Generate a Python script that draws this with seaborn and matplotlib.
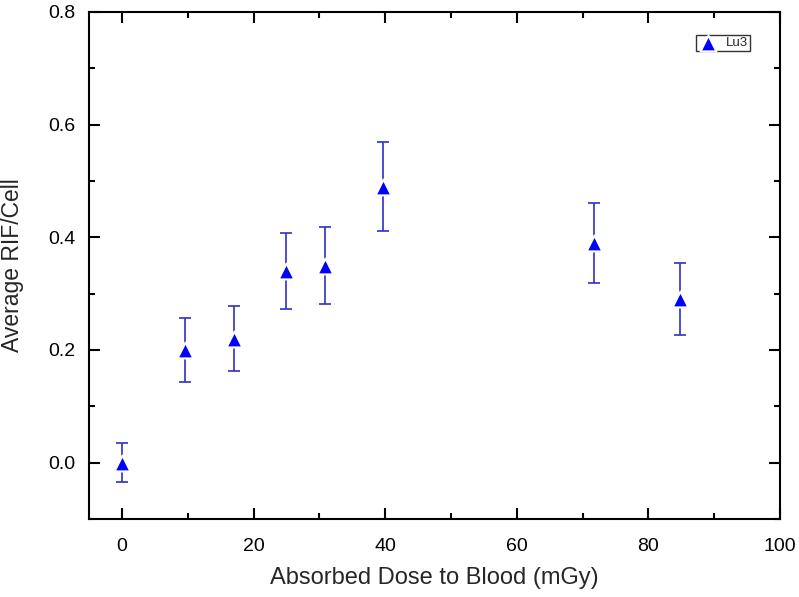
import numpy as np
import pandas as pd
import matplotlib
matplotlib.use("Agg")
import matplotlib.pyplot as plt
from matplotlib.ticker import MultipleLocator
import seaborn as sns

# data
dose = [0.0, 9.6, 17.0, 25.0, 30.8, 39.7, 71.8, 84.8]
rif_per_cell = [0.0, 0.20, 0.22, 0.34, 0.35, 0.49, 0.39, 0.29]
rif_err = [0.035, 0.056, 0.058, 0.068, 0.069, 0.079, 0.071, 0.064]
series_name = "Lu3"

df = pd.DataFrame({"dose": dose, "rif": rif_per_cell, "err": rif_err})

sns.set_style("ticks")
plt.rcParams['font.family'] = ['Liberation Sans', 'DejaVu Sans']

fig = plt.figure(figsize=(7.99, 5.97), dpi=100)
ax = fig.add_axes([89 / 799, 1 - 519 / 597, (780 - 89) / 799, (519 - 12) / 597])

# error bars first, markers drawn on top
ax.errorbar(df["dose"], df["rif"], yerr=df["err"], fmt="none",
            ecolor="#3030c0", elinewidth=1.2, capsize=4.5, capthick=1.2, zorder=2)
sns.scatterplot(data=df, x="dose", y="rif", marker="^", s=130, color="#0000ff",
                edgecolor="white", linewidth=1.5, label=series_name, ax=ax, zorder=3)

ax.set_xlim(-5, 100)
ax.set_ylim(-0.1, 0.8)
ax.xaxis.set_major_locator(MultipleLocator(20))
ax.xaxis.set_minor_locator(MultipleLocator(10))
ax.yaxis.set_major_locator(MultipleLocator(0.2))
ax.yaxis.set_minor_locator(MultipleLocator(0.1))
ax.yaxis.set_major_formatter(matplotlib.ticker.FormatStrFormatter("%.1f"))

ax.tick_params(which="both", direction="in", top=True, right=True,
               labeltop=False, labelright=False, width=1.5, labelsize=14,
               colors="black")
ax.tick_params(which="major", length=8)
ax.tick_params(axis="x", which="major", pad=14)
ax.tick_params(axis="y", which="major", pad=10)
ax.tick_params(which="minor", length=4.5)
for sp in ax.spines.values():
    sp.set_linewidth(1.5)
    sp.set_color("black")

ax.set_xlabel("Absorbed Dose to Blood (mGy)", fontsize=17, labelpad=8)
ax.set_ylabel("Average RIF/Cell", fontsize=16.5)
ax.yaxis.set_label_coords(-0.0941, 0.5)

leg = ax.legend(loc="upper right", bbox_to_anchor=(0.9565, 0.955), fontsize=9.5,
                frameon=True, fancybox=False, borderpad=0.15, handletextpad=0.6,
                handlelength=1.5, borderaxespad=0.0, markerscale=1.0)
leg.get_frame().set_edgecolor("black")
leg.get_frame().set_linewidth(1.0)

fig.savefig("out.png", dpi=100)
